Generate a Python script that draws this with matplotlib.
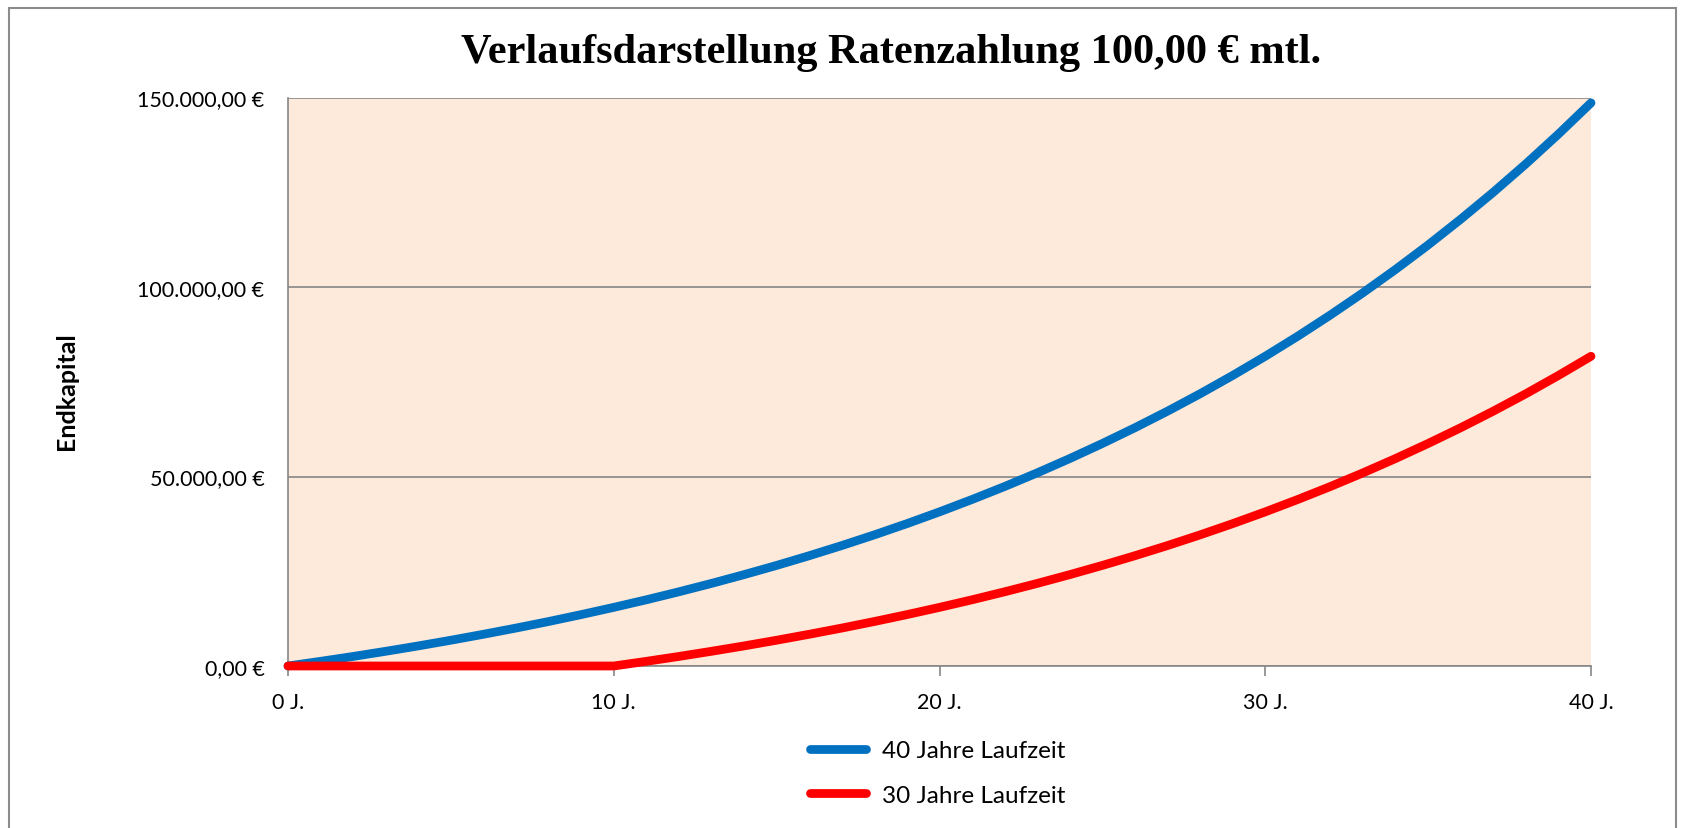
import matplotlib
matplotlib.use("Agg")
import matplotlib.pyplot as plt
from matplotlib.patches import Rectangle
from matplotlib.ticker import FuncFormatter, MultipleLocator

# Jahre 0..40, Endkapital in Euro
jahre = list(range(0, 41))
kapital_40 = [0, 1230, 2520, 3880, 5300, 6800, 8370, 10010, 11740, 13560,
              15470, 17470, 19580, 21790, 24110, 26540, 29100, 31780, 34600, 37560,
              40670, 43940, 47360, 50960, 54740, 58710, 62870, 67240, 71830, 76660,
              81720, 87030, 92620, 98480, 104630, 111090, 117880, 125000, 132480, 140340,
              148580]
kapital_30 = [0, 0, 0, 0, 0, 0, 0, 0, 0, 0,
              0, 1230, 2520, 3880, 5300, 6800, 8370, 10010, 11740, 13560,
              15470, 17470, 19580, 21790, 24110, 26540, 29100, 31780, 34600, 37560,
              40670, 43940, 47360, 50960, 54740, 58710, 62870, 67240, 71830, 76660,
              81720]
serien = ["40 Jahre Laufzeit", "30 Jahre Laufzeit"]
titel = "Verlaufsdarstellung Ratenzahlung 100,00 € mtl."

grau = "#868686"
fig = plt.figure(figsize=(16.97, 8.29), dpi=100)
fig.patch.set_facecolor("white")

# Rahmen um das Diagramm (unten abgeschnitten)
fig.patches.append(Rectangle((9/1697, -0.2), (1676-9)/1697, 1.2 - 9/829,
                             transform=fig.transFigure, fill=False,
                             edgecolor="#8c8c8c", linewidth=1.5))

ax = fig.add_axes([288/1697, 1-667/829, (1591-288)/1697, (667-98.5)/829])
ax.set_facecolor("#FDEADA")

ax.plot(jahre, kapital_40, color="#0070C0", lw=6.3, solid_capstyle="round",
        clip_on=False, label=serien[0], zorder=3)
ax.plot(jahre, kapital_30, color="#FF0000", lw=6.3, solid_capstyle="round",
        clip_on=False, label=serien[1], zorder=4)

ax.set_xlim(0, 40)
ax.set_ylim(0, 150000)
ax.xaxis.set_major_locator(MultipleLocator(10))
ax.yaxis.set_major_locator(MultipleLocator(50000))

def euro(v, pos):
    s = "{:,.2f}".format(v).replace(",", "X").replace(".", ",").replace("X", ".")
    return s + " €"

ax.yaxis.set_major_formatter(FuncFormatter(euro))
ax.xaxis.set_major_formatter(FuncFormatter(lambda v, p: "%d J." % v))

ax.grid(axis="y", color=grau, lw=1.2)
ax.set_axisbelow(True)
for s in ["top", "right"]:
    ax.spines[s].set_visible(False)
for s in ["left", "bottom"]:
    ax.spines[s].set_color(grau)
    ax.spines[s].set_linewidth(1.2)

ax.tick_params(axis="y", length=0, pad=17, labelsize=15.5, labelcolor="black")
ax.tick_params(axis="x", length=7, width=1.2, color=grau, pad=12,
               labelsize=15.5, labelcolor="black")
for lab in ax.get_xticklabels() + ax.get_yticklabels():
    lab.set_family("Lato")

fig.text(66/1697, 1-391/829, "Endkapital", rotation=90, ha="center", va="center",
         family="Lato", fontweight="bold", fontsize=18)
fig.text(891/1697, 1-53/829, titel, ha="center", va="center",
         family="Liberation Serif", fontweight="bold", fontsize=30.5)

leg = fig.legend(loc="center left", bbox_to_anchor=(810/1697, 1-774/829),
                 frameon=False, prop={"family": "Lato", "size": 17.5},
                 handlelength=2.3, handletextpad=0.65, labelspacing=0.95,
                 borderpad=0, borderaxespad=0)

fig.savefig("out.png", dpi=100)
